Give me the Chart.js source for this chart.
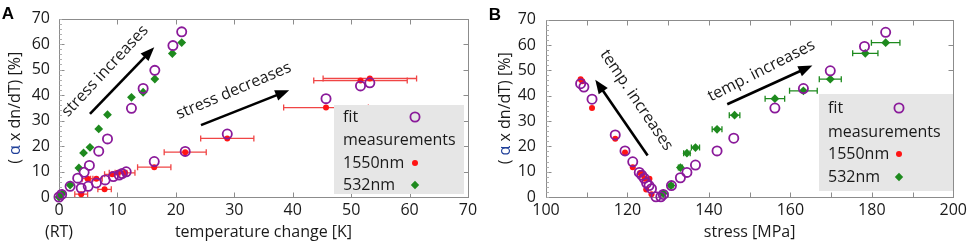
<!DOCTYPE html>
<html><head><meta charset="utf-8">
<script src="https://cdn.jsdelivr.net/npm/chart.js@4.4.0/dist/chart.umd.min.js"></script>
<style>
html,body{margin:0;padding:0;background:#fff;overflow:hidden}
#wrap{position:relative;width:971px;height:244px}
canvas{position:absolute;top:0}
#ca{left:0}
#cb{left:488px}
</style></head><body>
<div id="wrap"><canvas id="ca" width="488" height="244"></canvas><canvas id="cb" width="483" height="244"></canvas></div>
<script>
// ---------- Panel A: temperature change [K] ----------
const A_fit_x = [0, 0.45, 1.9, 3.2, 3.8, 4.3, 5.0, 5.2, 6.4, 6.8, 7.9, 8.3, 9.3, 10.3, 10.8, 11.5, 12.4, 14.4, 16.3, 16.4, 19.5, 21.0, 21.6, 28.8, 45.7, 51.6, 53.2];
const A_fit_y = [0, 1.0, 4.2, 7.4, 3.5, 9.7, 4.2, 12.4, 5.5, 18.0, 6.7, 22.8, 8.0, 8.6, 9.2, 9.9, 34.8, 42.6, 13.9, 49.7, 59.4, 64.8, 17.9, 24.7, 38.6, 43.6, 44.8];
const A_red_x = [3.8, 4.9, 6.4, 7.8, 9.1, 10.1, 11.3, 16.3, 21.6, 28.8, 45.7, 51.6, 53.2];
const A_red_y = [1.1, 7.2, 7.2, 3.0, 8.9, 9.5, 9.5, 11.7, 17.6, 23.0, 35.1, 45.7, 46.5];
const A_red_err = [1.1, 0.9, 1.0, 1.15, 1.3, 1.5, 1.7, 2.85, 3.6, 4.55, 7.25, 8.0, 8.0];
const A_grn_x = [0, 0.6, 1.9, 3.4, 4.2, 5.3, 6.8, 8.3, 12.4, 14.4, 16.4, 19.4, 21.0];
const A_grn_y = [0, 1.4, 4.7, 11.4, 17.3, 19.5, 26.7, 32.3, 39.1, 41.1, 46.3, 56.3, 60.6];
// ---------- Panel B: stress [MPa] ----------
const B_fit_x = [108.5, 109.3, 111.3, 117.0, 119.4, 121.3, 122.9, 123.5, 124.1, 124.7, 125.3, 125.9, 127.0, 128.2, 128.8, 130.8, 133.0, 134.6, 136.7, 142.0, 146.1, 156.2, 163.2, 169.8, 178.2, 183.4];
const B_fit_y = [44.7, 43.4, 38.6, 24.5, 18.2, 13.9, 9.7, 8.6, 7.4, 5.5, 4.5, 3.3, 0.1, 0.1, 1.0, 4.5, 7.6, 9.7, 12.6, 18.2, 23.2, 35.1, 42.8, 49.8, 59.4, 65.0];
const B_red_x = [108.5, 108.9, 111.3, 117.0, 119.4, 121.3, 123.1, 123.4, 123.6, 124.2, 125.4, 124.6, 125.9];
const B_red_y = [46.5, 45.7, 35.1, 23.0, 17.6, 11.7, 9.5, 9.5, 8.9, 7.2, 7.2, 3.0, 1.1];
const B_grn_x = [128.8, 130.7, 133.0, 134.6, 136.7, 142.0, 146.3, 156.2, 163.2, 169.8, 178.4, 183.4];
const B_grn_y = [1.4, 4.5, 11.6, 17.3, 19.5, 26.7, 32.3, 38.8, 41.9, 46.5, 56.7, 60.9];
const B_grn_err = [0.4, 0.5, 0.5, 0.8, 1.0, 1.2, 1.3, 2.4, 3.4, 2.7, 3.1, 3.5];
// ---------- axes / labels ----------
const Y_TICKS = {min: 0, max: 70, step: 10};
const A_X_TICKS = {min: 0, max: 70, step: 10};
const B_X_TICKS = {min: 100, max: 200, step: 20};
const LEGEND_LABELS = ['fit', 'measurements', '1550nm', '532nm'];
const A_XTITLE = 'temperature change [K]';
const B_XTITLE = 'stress [MPa]';

const FONT = '"Open Sans", sans-serif';
const TXT = '#1a1a1a';
const PURPLE = '#8a1a9a', RED = '#ff1414', GREEN = '#1e8a1e', BLUE = '#1f3f99';

function pts(xs, ys) { return xs.map((x, i) => ({x: x, y: ys[i]})); }

const errPlugin = {
  id: 'err',
  beforeDatasetsDraw(chart) {
    const {ctx, scales: {x, y}} = chart;
    chart.data.datasets.forEach(ds => {
      if (!ds.xErr) return;
      ctx.save();
      ctx.strokeStyle = ds.errColor; ctx.lineWidth = 1.3;
      ds.data.forEach((p, i) => {
        const e = ds.xErr[i];
        const x0 = x.getPixelForValue(p.x - e), x1 = x.getPixelForValue(p.x + e), py = y.getPixelForValue(p.y);
        ctx.beginPath();
        ctx.moveTo(x0, py); ctx.lineTo(x1, py);
        ctx.moveTo(x0, py - 3); ctx.lineTo(x0, py + 3);
        ctx.moveTo(x1, py - 3); ctx.lineTo(x1, py + 3);
        ctx.stroke();
      });
      ctx.restore();
    });
  }
};

const framePlugin = {
  id: 'frame',
  beforeDatasetsDraw(chart, args, o) {
    const {ctx, chartArea: a, scales: {x, y}} = chart;
    ctx.save();
    ctx.strokeStyle = '#8c8c8c'; ctx.lineWidth = 1;
    const L = Math.round(a.left) + 0.5, R = Math.round(a.right) + 0.5, T = Math.round(a.top) + 0.5, B = Math.round(a.bottom) + 0.5;
    ctx.strokeRect(L, T, R - L, B - T);
    ctx.beginPath();
    for (let v = x.min; v <= x.max + 1e-9; v += o.xStep) {
      const px = Math.round(x.getPixelForValue(v)) + 0.5;
      ctx.moveTo(px, B); ctx.lineTo(px, B - 5);
      ctx.moveTo(px, T); ctx.lineTo(px, T + 5);
    }
    for (let v = y.min; v <= y.max + 1e-9; v += 10) {
      const py = Math.round(y.getPixelForValue(v)) + 0.5;
      ctx.moveTo(L, py); ctx.lineTo(L + 5, py);
      ctx.moveTo(R, py); ctx.lineTo(R - 5, py);
    }
    ctx.stroke();
    ctx.strokeStyle = '#b0b0b0';
    ctx.beginPath();
    for (let v = y.min; v <= y.max + 1e-9; v += 2) {
      const py = Math.round(y.getPixelForValue(v)) + 0.5;
      ctx.moveTo(L, py); ctx.lineTo(L + 2.5, py);
    }
    ctx.stroke();
    ctx.restore();
  }
};

function drawSym(ctx, kind, x, y) {
  ctx.save();
  if (kind === 'circle') {
    ctx.strokeStyle = PURPLE; ctx.lineWidth = 1.8;
    ctx.beginPath(); ctx.arc(x, y, 4.6, 0, Math.PI * 2); ctx.stroke();
  } else if (kind === 'dot') {
    ctx.fillStyle = RED; ctx.beginPath(); ctx.arc(x, y, 3, 0, Math.PI * 2); ctx.fill();
  } else if (kind === 'diamond') {
    ctx.fillStyle = GREEN; ctx.beginPath();
    ctx.moveTo(x, y - 4.2); ctx.lineTo(x + 4.2, y); ctx.lineTo(x, y + 4.2); ctx.lineTo(x - 4.2, y); ctx.closePath(); ctx.fill();
  }
  ctx.restore();
}

const legendPlugin = {
  id: 'boxlegend',
  afterDatasetsDraw(chart, args, o) {
    const {ctx} = chart;
    ctx.save();
    ctx.fillStyle = '#e6e6e6';
    ctx.fillRect(o.x, o.y, o.w, o.h);
    ctx.font = '16px ' + FONT; ctx.fillStyle = TXT; ctx.textBaseline = 'middle'; ctx.textAlign = 'left';
    LEGEND_LABELS.forEach((t, i) => ctx.fillText(t, o.tx, o.rows[i]));
    drawSym(ctx, 'circle', o.sx, o.rows[0]);
    drawSym(ctx, 'dot', o.sx, o.rows[2]);
    drawSym(ctx, 'diamond', o.sx, o.rows[3]);
    ctx.restore();
  }
};

const annPlugin = {
  id: 'ann',
  afterDatasetsDraw(chart, args, o) {
    const {ctx, chartArea: a, scales: {x, y}} = chart;
    ctx.save();
    (o.texts || []).forEach(t => {
      ctx.save();
      ctx.translate(x.getPixelForValue(t.x), y.getPixelForValue(t.y));
      ctx.rotate(t.a * Math.PI / 180);
      ctx.font = '16px ' + FONT; ctx.fillStyle = TXT; ctx.textAlign = 'center'; ctx.textBaseline = 'middle';
      ctx.fillText(t.s, 0, 0);
      ctx.restore();
    });
    (o.arrows || []).forEach(r => {
      const x0 = x.getPixelForValue(r.x0), y0 = y.getPixelForValue(r.y0);
      const x1 = x.getPixelForValue(r.x1), y1 = y.getPixelForValue(r.y1);
      const ang = Math.atan2(y1 - y0, x1 - x0);
      const hl = 14, hw = 5.5;
      const bx = x1 - hl * Math.cos(ang), by = y1 - hl * Math.sin(ang);
      ctx.strokeStyle = '#000'; ctx.fillStyle = '#000'; ctx.lineWidth = 2.6;
      ctx.beginPath(); ctx.moveTo(x0, y0); ctx.lineTo(bx + 2 * Math.cos(ang), by + 2 * Math.sin(ang)); ctx.stroke();
      ctx.beginPath();
      ctx.moveTo(x1, y1);
      ctx.lineTo(bx - hw * Math.sin(ang), by + hw * Math.cos(ang));
      ctx.lineTo(bx + hw * Math.sin(ang), by - hw * Math.cos(ang));
      ctx.closePath(); ctx.fill();
    });
    // y title
    ctx.save();
    ctx.translate(o.ytx, (a.top + a.bottom) / 2);
    ctx.rotate(-Math.PI / 2);
    ctx.font = '16px ' + FONT; ctx.textBaseline = 'middle'; ctx.textAlign = 'left';
    const parts = [['( ', TXT], ['\u03B1', BLUE], [' x dn/dT) [%]', TXT]];
    let w = 0; parts.forEach(p => w += ctx.measureText(p[0]).width);
    let cx = -w / 2;
    parts.forEach(p => { ctx.fillStyle = p[1]; ctx.fillText(p[0], cx, 0); cx += ctx.measureText(p[0]).width; });
    ctx.restore();
    // panel letter
    ctx.font = 'bold 17px "Liberation Sans", Arial, sans-serif'; ctx.fillStyle = '#000';
    ctx.textAlign = 'center'; ctx.textBaseline = 'middle';
    ctx.fillText(o.letter, o.lx, o.ly);
    if (o.rt) {
      ctx.font = '16px ' + FONT; ctx.fillStyle = TXT;
      ctx.fillText(o.rt, x.getPixelForValue(x.min), o.rtY);
    }
    ctx.restore();
  }
};

function makeChart(id, c) {
  return new Chart(document.getElementById(id), {
    type: 'scatter',
    data: {datasets: [
      {label: 'fit', data: pts(c.fitX, c.fitY), pointStyle: 'circle', pointRadius: 4.6, pointHoverRadius: 4.6, pointBorderWidth: 1.8, borderColor: PURPLE, backgroundColor: 'rgba(0,0,0,0)', clip: false},
      {label: '1550nm', data: pts(c.redX, c.redY), pointStyle: 'circle', pointRadius: 3, pointHoverRadius: 3, pointBorderWidth: 0, borderColor: RED, backgroundColor: RED, xErr: c.redErr, errColor: '#f04545', clip: false},
      {label: '532nm', data: pts(c.grnX, c.grnY), pointStyle: 'rectRot', pointRadius: 4.4, pointHoverRadius: 4.4, pointBorderWidth: 0, borderColor: GREEN, backgroundColor: GREEN, xErr: c.grnErr, errColor: GREEN, clip: false}
    ]},
    options: {
      responsive: false, animation: false, devicePixelRatio: 1,
      events: [],
      layout: {padding: {left: 0, right: c.padR, top: 10, bottom: 0}, autoPadding: false},
      plugins: {
        legend: {display: false}, tooltip: {enabled: false},
        frame: {xStep: 10},
        boxlegend: c.legend,
        ann: c.ann
      },
      scales: {
        x: {type: 'linear', min: c.xt.min, max: c.xt.max,
          grid: {display: false, drawTicks: false}, border: {display: false},
          ticks: {stepSize: c.xt.step, font: {family: FONT, size: 16}, color: TXT, padding: 4, maxRotation: 0, autoSkip: false},
          title: {display: true, text: c.xTitle, font: {family: FONT, size: 16}, color: TXT, padding: {top: 0, bottom: 2.4}},
          afterFit(s) { s.height = 47; }
        },
        y: {type: 'linear', min: Y_TICKS.min, max: Y_TICKS.max,
          grid: {display: false, drawTicks: false}, border: {display: false},
          ticks: {stepSize: Y_TICKS.step, font: {family: FONT, size: 16}, color: TXT, padding: c.yPad, autoSkip: false},
          afterFit(s) { s.width = c.yW; }
        }
      }
    },
    plugins: [errPlugin, framePlugin, annPlugin, legendPlugin]
  });
}

makeChart('ca', {
  fitX: A_fit_x, fitY: A_fit_y, redX: A_red_x, redY: A_red_y, redErr: A_red_err, grnX: A_grn_x, grnY: A_grn_y, grnErr: null,
  xt: A_X_TICKS, xTitle: A_XTITLE, padR: 20, yW: 59, yPad: 9,
  legend: {x: 334, y: 105, w: 130, h: 89, tx: 343, sx: 415, rows: [117, 140, 163, 185]},
  ann: {
    ytx: 15, letter: 'A', lx: 8, ly: 14, rt: '(RT)', rtY: 232,
    texts: [{s: 'stress increases', x: 7.9, y: 49.4, a: -47}, {s: 'stress decreases', x: 29.9, y: 41.6, a: -23}],
    arrows: [{x0: 5.3, y0: 32.6, x1: 16.3, y1: 58.8}, {x0: 24.3, y0: 28.2, x1: 39.4, y1: 41.9}]
  }
});
makeChart('cb', {
  fitX: B_fit_x, fitY: B_fit_y, redX: B_red_x, redY: B_red_y, redErr: null, grnX: B_grn_x, grnY: B_grn_y, grnErr: B_grn_err,
  xt: B_X_TICKS, xTitle: B_XTITLE, padR: 14, yW: 58, yPad: 10,
  legend: {x: 331, y: 94, w: 134, h: 97, tx: 340, sx: 411, rows: [108, 132, 154, 177]},
  ann: {
    ytx: 17, letter: 'B', lx: 7, ly: 15,
    texts: [{s: 'temp. increases', x: 122.2, y: 38.2, a: 56}, {s: 'temp. increases', x: 152.9, y: 49.8, a: -27}],
    arrows: [{x0: 124.95, y0: 16.4, x1: 112.1, y1: 46.3}, {x0: 144.5, y0: 36.6, x1: 165.4, y1: 51.9}]
  }
});
</script>
</body></html>
